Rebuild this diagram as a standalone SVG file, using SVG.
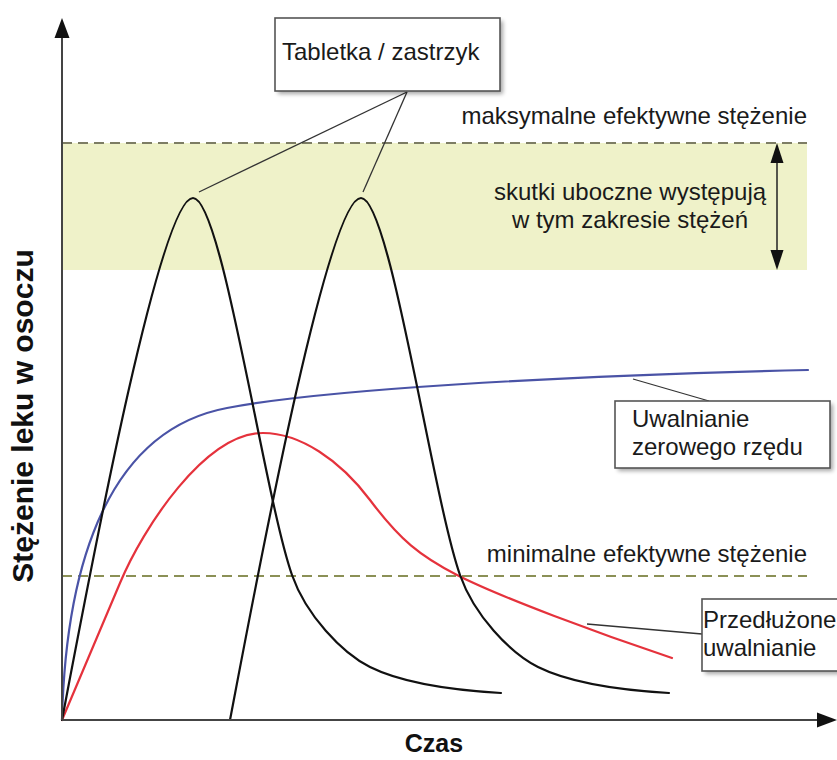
<svg xmlns="http://www.w3.org/2000/svg" width="837" height="760" viewBox="0 0 837 760">
<defs>
<style>
.t{font-family:"Liberation Sans",Arial,sans-serif;font-size:24px;fill:#1a1a1a}
.tb{font-family:"Liberation Sans",Arial,sans-serif;font-weight:bold;fill:#111}
.box{fill:#fff;stroke:#555;stroke-width:1.6}
.shadow{fill:#000;opacity:0.35;filter:url(#blur)}
.dash{fill:none;stroke-width:2;stroke-dasharray:10 6}
.curve{fill:none;stroke-width:2.2;stroke-linejoin:round;stroke-linecap:round}
.lead{fill:none;stroke:#333;stroke-width:1.3}
.axis{fill:none;stroke:#444;stroke-width:2}
</style>
<filter id="blur" x="-10%" y="-10%" width="120%" height="130%"><feGaussianBlur stdDeviation="2"/></filter>
<path id="pk" d="M62,720 C90.5,570 160,198 193,198 C222,198 264,495 292,575 C306,615 342,653 370,667 C400,682 450,690 501,693"/>
</defs>
<rect width="837" height="760" fill="#fff"/>
<g id="band">
<rect x="62" y="143" width="745" height="127" fill="#eff2c9"/>
<line class="dash" x1="62" y1="143" x2="807" y2="143" stroke="#7d7d64"/>
<line class="dash" x1="62" y1="576" x2="807" y2="576" stroke="#8b9056"/>
<text class="t" x="807" y="124" text-anchor="end">maksymalne efektywne stężenie</text>
<text class="t" x="807" y="562" text-anchor="end">minimalne efektywne stężenie</text>
<text class="t" x="630" y="200" text-anchor="middle">skutki uboczne występują</text>
<text class="t" x="630" y="228" text-anchor="middle">w tym zakresie stężeń</text>
<line x1="777" y1="158" x2="777" y2="255" stroke="#222" stroke-width="1.5"/>
<polygon points="777,143 770.5,163 783.5,163" fill="#111"/>
<polygon points="777,270 770.5,250 783.5,250" fill="#111"/>
</g>
<g id="curves">
<path class="curve" stroke="#4a53a6" d="M62,720 C66,560 110,430 227,408 C320,390 550,376 808,370"/>
<path class="curve" stroke="#e5323c" d="M62,720 L120,583 C143,528 205,433 263,433 C300,433 340,460 370,500 C400,540 420,556 457,575 C500,597 600,634 672,658"/>
<use href="#pk" class="curve" stroke="#111"/>
<use href="#pk" class="curve" stroke="#111" transform="translate(168,0)"/>
</g>
<g id="axes">
<line class="axis" x1="62" y1="720" x2="62" y2="36"/>
<polygon points="62,18 54.5,38 69.5,38" fill="#111"/>
<line class="axis" x1="62" y1="720" x2="820" y2="720"/>
<polygon points="837,720 817,712.5 817,727.5" fill="#111"/>
<text class="tb" font-size="25" x="434" y="752" text-anchor="middle">Czas</text>
<text class="tb" font-size="30" transform="translate(33,416) rotate(-90)" text-anchor="middle">Stężenie leku w osoczu</text>
</g>
<g id="connectors">
<line class="lead" x1="407" y1="92" x2="199" y2="192"/>
<line class="lead" x1="407" y1="92" x2="363" y2="192"/>
<line class="lead" x1="633" y1="379" x2="709" y2="401"/>
<line class="lead" x1="587" y1="624" x2="702" y2="634"/>
</g>
<g id="node-tabletka">
<rect class="shadow" x="278" y="21" width="225" height="73"/>
<rect class="box" x="275" y="18" width="225" height="73"/>
<text class="t" x="282" y="60">Tabletka / zastrzyk</text>
</g>
<g id="node-zerowego">
<rect class="shadow" x="618" y="404" width="215" height="67"/>
<rect class="box" x="615" y="401" width="215" height="67"/>
<text class="t" x="632" y="427">Uwalnianie</text>
<text class="t" x="632" y="455">zerowego rzędu</text>
</g>
<g id="node-przedluzone">
<rect class="shadow" x="705" y="602" width="140" height="72"/>
<rect class="box" x="702" y="599" width="140" height="72"/>
<text class="t" x="703" y="628">Przedłużone</text>
<text class="t" x="703" y="656">uwalnianie</text>
</g>
</svg>
